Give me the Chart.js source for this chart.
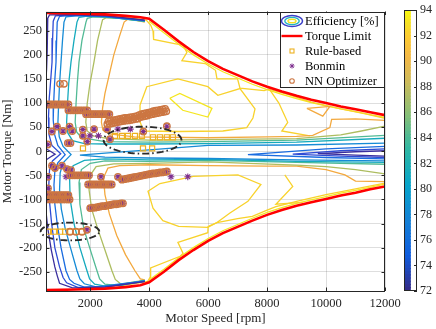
<!DOCTYPE html>
<html><head><meta charset="utf-8">
<script src="https://cdn.jsdelivr.net/npm/chart.js@4.4.1/dist/chart.umd.min.js"></script>
<style>
html,body{margin:0;padding:0;background:#fff;}
#wrap{position:relative;width:436px;height:329px;overflow:hidden;}
#main{position:absolute;left:0;top:0;}
#cbar{position:absolute;left:396px;top:0;}
</style></head><body>
<div id="wrap"><canvas id="main" width="436" height="329"></canvas><canvas id="cbar" width="40" height="329"></canvas></div>
<script>
// ---------- axes ----------
const xRange = [500, 12000];
const yRange = [-290, 290];
const cbRange = [72, 94];
const xTicks = [2000, 4000, 6000, 8000, 10000, 12000];
const yTicks = [-250, -200, -150, -100, -50, 0, 50, 100, 150, 200, 250];
const cbTicks = [72, 74, 76, 78, 80, 82, 84, 86, 88, 90, 92, 94];
const xTitle = 'Motor Speed [rpm]';
const yTitle = 'Motor Torque [Nm]';
const legendLabels = ['Efficiency [%]', 'Torque Limit', 'Rule-based', 'Bonmin', 'NN Optimizer'];

// ---------- torque limit ----------
const limitUp = [[500,287],[1500,286],[2500,284],[3200,281],[3700,278],[4000,275],[4500,252],[5000,228],[5500,206],[6000,187],[6500,171],[7000,158],[7500,145],[8000,134],[8500,124],[9000,115],[9500,107],[10000,100],[10500,93],[11000,87],[11500,81],[12000,75]];
const limitDn = [[500,-288],[1500,-287],[2500,-285],[3200,-282],[3700,-278],[4000,-272],[4500,-250],[5000,-226],[5500,-205],[6000,-186],[6500,-170],[7000,-157],[7500,-144],[8000,-132],[8500,-122],[9000,-113],[9500,-106],[10000,-99],[10500,-92],[11000,-86],[11500,-79],[12000,-73]];

// ---------- efficiency contour paths (rpm, Nm) ----------
const up72 = [[3850,272],[2500,281.5],[1200,283.5],[620,283],[560,276],[545,245],[535,205],[520,170],[500,150]];
const chev72L = [[500,5],[650,0],[810,-6],[650,-12],[500,-18]];
const low72 = [[500,-125],[560,-160],[680,-205],[800,-240],[880,-258],[960,-274],[1400,-283.5],[2500,-282],[3850,-270.5]];
const wedge72R = [[12000,1],[11000,-1],[9720,-5],[11000,-8],[12000,-10]];
const path74 = [[3850,271.5],[2500,280.8],[1300,282.8],[820,281],[745,270],[725,235],[705,185],[650,140],[610,110],[585,70],[600,35],[700,12],[1000,-5],[720,-20],[620,-38],[595,-70],[620,-105],[690,-150],[800,-200],[960,-240],[1080,-262],[1200,-273],[1600,-282.7],[2500,-281.3],[3850,-270]];
const wedge74R = [[12000,5],[10500,1],[8870,-6],[10500,-10],[12000,-13]];
const path76 = [[3850,271],[2500,280.1],[1400,282.1],[960,280],[880,268],[860,230],[840,185],[790,140],[760,100],[745,65],[790,35],[900,12],[1150,-7],[900,-24],[800,-42],[770,-70],[800,-110],[880,-150],[1010,-200],[1178,-248],[1300,-266],[1450,-274],[1800,-282],[2500,-280.6],[3850,-269.5]];
const wedge76R = [[12000,10],[10000,5],[7350,-7],[10000,-13],[12000,-16]];
const path78 = [[3850,270.5],[2500,279.4],[1600,281.4],[1180,279],[1110,268],[1060,230],[1009,185],[960,140],[930,100],[905,60],[950,30],[1080,10],[1350,-7],[1080,-24],[980,-45],[960,-80],[1020,-120],[1150,-160],[1330,-200],[1551,-248],[1650,-265],[1800,-275],[2200,-281.6],[3850,-269]];
const wedge78R = [[12000,17],[9000,13],[6000,12],[4000,3],[2500,-4],[1650,-8],[2500,-12],[4000,-14],[6000,-15],[9000,-18],[12000,-20]];
const up82 = [[3850,270],[2500,278.7],[1900,280.5],[1620,278],[1551,268],[1450,230],[1348,185],[1270,140],[1230,100],[1200,60],[1240,38],[1400,22],[1800,16],[2500,15],[4000,15],[6000,16],[9000,19],[12000,27]];
const low82 = [[12000,-23],[9000,-21],[6000,-17],[4000,-18],[2500,-16],[1800,-19],[1420,-30],[1300,-55],[1320,-100],[1450,-150],[1650,-200],[1890,-248],[1980,-265],[2150,-276],[2600,-280.7],[3850,-268.5]];
const up85 = [[3850,269.5],[2700,277.6],[2100,279],[1900,276],[1856,268],[1720,230],[1619,185],[1560,140],[1520,100],[1490,60],[1540,40],[1700,28],[2500,20],[4000,19],[6000,20],[9000,23],[12000,33]];
const low85 = [[12000,-27],[9000,-23],[6000,-19],[4000,-21],[2500,-20],[2000,-25],[1700,-38],[1620,-65],[1650,-110],[1780,-160],[1980,-200],[2229,-248],[2320,-265],[2500,-276],[3000,-279.5],[3850,-268]];
const up88 = [[3850,269],[3000,276],[2550,277],[2420,273],[2398,268],[2250,230],[2127,185],[1990,140],[1900,100],[1850,60],[1900,42],[2100,32],[2600,26],[4000,23],[6000,24],[9000,26],[10500,34],[11200,42],[12000,52]];
const low88 = [[12000,-47],[11000,-38],[10000,-32],[9000,-29],[6000,-22],[4000,-25],[2800,-26],[2200,-32],[2000,-50],[1960,-80],[2050,-120],[2250,-160],[2500,-205],[2737,-248],[2850,-266],[3050,-276],[3850,-267.5]];
const up90 = [[3850,268],[3300,275],[3150,268],[3000,240],[2800,200],[2650,160],[2500,120],[2420,90],[2380,60],[2430,44],[2650,36],[3500,30],[6000,28],[8000,30],[9000,31],[9550,33],[10130,49],[10190,66],[11000,67],[12000,64]];
const low90 = [[12000,-63],[11000,-62],[10640,-49],[10000,-38],[9000,-31],[8000,-31],[6000,-30],[4000,-28],[3000,-30],[2600,-35],[2450,-55],[2500,-90],[2650,-130],[2900,-175],[3200,-215],[3517,-248],[3700,-265],[3850,-267]];
const tri90 = [[9350,89],[10130,93],[9890,73],[9350,89]];
const up92 = [[3000,280],[3900,272],[4050,262],[4130,250],[4150,232],[4900,223],[5150,220],[5280,205],[5110,188],[5900,182],[6250,168],[6300,150],[7000,150],[7080,131],[7900,126],[8050,129],[8700,118],[9500,102],[10500,88],[11300,78],[12000,68]];
const up92b = [[8100,127],[8400,100],[8550,80],[8700,60],[8500,42],[9450,32]];
const loop92U = [[3690,96],[3920,134],[4975,150],[5990,134],[6330,116],[7080,130],[7590,88],[7520,69],[7310,49],[6500,42],[5000,41],[3800,42],[3700,60],[3690,96]];
const loop93U = [[4700,110],[5040,120],[6130,89],[5990,71],[5140,85],[4700,110]];
const low92 = [[3000,-280],[3950,-270],[4030,-262],[4050,-242],[5050,-218],[5150,-212],[4975,-189],[5990,-169],[6000,-156],[6300,-148],[7000,-140],[7500,-135],[8000,-122],[8300,-115],[9000,-104],[10000,-90],[11000,-78],[12000,-66]];
const low92b = [[8600,-49],[8870,-73],[8300,-110],[9210,-106]];
const loop92L = [[4365,-67],[5500,-52],[7010,-49],[7790,-69],[7350,-104],[6740,-128],[6300,-148],[5990,-158],[5000,-156],[4465,-144],[4130,-118],[3960,-83],[4365,-67]];
const up93 = [[4000,270],[4500,246],[5000,222],[5500,200],[6000,181],[6500,165],[7000,152],[7500,139],[8000,128],[8500,118],[9000,109],[9500,101],[10000,94],[10500,88],[11000,82],[11500,76],[12000,70]];
const low93 = [[4000,-267],[4500,-245],[5000,-221],[5500,-200],[6000,-181],[6500,-165],[7000,-152],[7500,-139],[8000,-127],[8500,-117],[9000,-108],[9500,-101],[10000,-94],[10500,-87],[11000,-81],[11500,-75],[12000,-68]];

const contourSet = [
  [72.5, up72], [72.5, chev72L], [72.5, low72], [72.5, wedge72R],
  [74, path74], [74, wedge74R],
  [76, path76], [76, wedge76R],
  [78, path78], [78, wedge78R],
  [82, up82], [82, low82],
  [85, up85], [85, low85],
  [88, up88], [88, low88],
  [90, up90], [90, low90], [90, tri90],
  [92, up92], [92, up92b], [92, low92], [92, low92b], [92, loop92U], [92, loop92L],
  [93, up93], [93, low93], [93, loop93U]
];

// ---------- operating points (rpm, Nm) ----------
const rowA = [[540,97],[620,97],[700,97],[780,97],[860,97],[940,97],[1020,97],[1100,97],[1180,97],[1260,97]];
const rowB = [[1260,85],[1340,85],[1420,85],[1500,85],[1580,85],[1660,85],[1740,85],[1820,85],[1900,85]];
const rowC = [[1860,77],[1940,77],[2020,77],[2100,77],[2180,77],[2260,77],[2340,77],[2420,77],[2500,77],[2580,77],[2650,77]];
const bandUpper = [[2620,62],[2700,63],[2780,64],[2860,65],[2940,66],[3020,67],[3100,68],[3180,69],[3260,69],[3340,70],[3420,71],[3500,72],[3580,73],[3660,75],[3740,77],[3820,78],[3900,79],[3980,80],[4060,81],[4140,83],[4220,84],[4300,85],[4380,86],[4460,87],[4540,88]];
const bandLower = [[2580,56],[2660,57],[2740,58],[2820,59],[2900,60],[2980,61],[3060,62],[3140,63],[3220,64],[3300,64],[3380,65],[3460,66],[3540,67],[3620,68],[3700,71],[3780,72],[3860,73],[3940,74],[4020,76],[4100,77],[4180,78],[4260,79],[4340,80],[4420,81],[4500,82],[4580,83]];
const ptsShared = [[560,14],[700,41],[873,51],[1076,42],[1300,51],[1390,42],[1240,17],[1330,17],[1750,45],[1750,32],[1900,20],[2130,46],[2570,46],[2670,25],[3800,41],[4600,52]];
const negShared = [[703,-30],[805,-35],[1042,-30],[1212,-37],[1348,-39],[568,-53],[2364,-53],[2941,-53],[568,-77],[1890,-163]];
const rowNeg50 = [[1320,-50],[1400,-50],[1480,-50],[1560,-50],[1640,-50],[1720,-50],[1800,-50],[1880,-50],[1960,-50]];
const rowNeg55 = [[3080,-59],[3160,-58],[3240,-57],[3320,-56],[3400,-55],[3480,-54],[3560,-53],[3640,-52],[3720,-51],[3800,-50],[3880,-49],[3960,-48],[4040,-47],[4120,-46],[4200,-46],[4280,-45],[4360,-44],[4440,-44],[4520,-43],[4600,-42]];
const rowNeg69 = [[1930,-69],[2010,-69],[2090,-69],[2170,-69],[2250,-69],[2330,-69],[2410,-69],[2490,-69],[2570,-69],[2650,-69],[2730,-69]];
const rowNeg91 = [[540,-91],[620,-91],[700,-91],[780,-91],[860,-91],[940,-91],[1020,-91],[1100,-91],[1180,-91],[1260,-91]];
const rowNeg100 = [[520,-100],[600,-100],[680,-100],[760,-100],[840,-100],[920,-100],[1000,-100],[1080,-100],[1160,-100],[1240,-100],[1300,-100]];
const rowNeg113 = [[2000,-118],[2080,-117],[2160,-117],[2240,-116],[2320,-115],[2400,-114],[2480,-114],[2560,-113],[2640,-112],[2720,-111],[2800,-110],[2880,-110],[2960,-109],[3040,-108],[3110,-108]];
const nnOnly = [[975,140],[1110,140],[1314,-167],[1517,-167],[1720,-167]];
const bonminOnly = [[1990,32],[2280,32],[2940,46],[3360,46],[1180,-53],[4740,-53],[5310,-53]];
const ruleOnly = [[2840,32],[3076,32],[3280,32],[3517,32],[3754,32],[4130,29],[4365,29],[4600,29],[4805,29],[3790,6],[4100,6],[1754,6],[568,-167],[771,-167],[975,-167],[1150,-167],[1314,-167],[1517,-167],[1720,-167]];

// dash-dot highlight ellipses: centres and radii (rpm, Nm)
const ellipseCentres = [[3775,23],[1313,-166.5]];
const ellipseRadii = [[1320,28],[993,18.5]];

// ---------- styles ----------
const FONT = "'Liberation Serif','Times New Roman',serif";
const AXIS_COLOR = '#262626';
const levelColor = {'72.5':'#3b2f9e','74':'#2f4bd4','76':'#1a6ce0','78':'#168bd6','82':'#15aabd','85':'#52ba95','88':'#adbd60','90':'#f3a93f','92':'#f8d22c','93':'#f5e620'};
const parulaStops = [[0,'#352a87'],[0.125,'#0f5cdd'],[0.25,'#1481d6'],[0.375,'#06a4ca'],[0.5,'#2eb7a4'],[0.625,'#87bf77'],[0.75,'#d1bb59'],[0.83,'#f3b846'],[0.9,'#fcca32'],[0.95,'#f5df25'],[1,'#f9fb0e']];
const RULE_COLOR = '#EDB120', BONMIN_COLOR = '#7E2F8E', NN_COLOR = 'rgb(204,118,66)';

function hex2rgb(h){return [parseInt(h.slice(1,3),16),parseInt(h.slice(3,5),16),parseInt(h.slice(5,7),16)];}
function parula(t){
  for(let i=0;i<parulaStops.length-1;i++){
    const [t0,c0]=parulaStops[i],[t1,c1]=parulaStops[i+1];
    if(t<=t1){const f=(t-t0)/(t1-t0);const a=hex2rgb(c0),b=hex2rgb(c1);
      return 'rgb('+a.map((v,k)=>Math.round(v+(b[k]-v)*f)).join(',')+')';}
  }
  return parulaStops[parulaStops.length-1][1];
}
const toXY = arr => arr.map(p => ({x:p[0], y:p[1]}));

Chart.defaults.font.family = FONT;
Chart.defaults.color = AXIS_COLOR;

// ---------- datasets ----------
const datasets = [];
contourSet.forEach(([lvl, path]) => {
  datasets.push({data: toXY(path), showLine:true, pointRadius:0, borderColor: levelColor[String(lvl)], borderWidth:1.3, tension:0, order:100});
});
datasets.push({data: toXY(limitUp), showLine:true, pointRadius:0, borderColor:'#ff0000', borderWidth:2.6, order:50});
datasets.push({data: toXY(limitDn), showLine:true, pointRadius:0, borderColor:'#ff0000', borderWidth:2.6, order:50});
datasets.push({data: toXY(ruleOnly), pointStyle:'rect', pointRadius:3.6, borderColor:RULE_COLOR, backgroundColor:'rgba(0,0,0,0)', borderWidth:1.2, order:4});
const bonminPts = [].concat(rowA,rowB,rowC,ptsShared,bonminOnly,negShared,rowNeg50,rowNeg55,rowNeg69,rowNeg91,rowNeg100,rowNeg113);
datasets.push({data: toXY(bonminPts), pointStyle:'star', pointRadius:3.4, borderColor:BONMIN_COLOR, backgroundColor:BONMIN_COLOR, borderWidth:1.1, order:3});
const nnPts = [].concat(nnOnly,rowA,rowB,rowC,bandUpper,bandLower,ptsShared,negShared,rowNeg50,rowNeg55,rowNeg69,rowNeg91,rowNeg100,rowNeg113);
datasets.push({data: toXY(nnPts), pointStyle:'circle', pointRadius:3.2, borderColor:NN_COLOR, backgroundColor:'rgba(0,0,0,0)', borderWidth:1.4, order:2});
ellipseCentres.forEach((c,i) => {
  const r = ellipseRadii[i], pts = [];
  for(let k=0;k<=90;k++){const a=k/90*2*Math.PI; pts.push({x:c[0]+r[0]*Math.cos(a), y:c[1]+r[1]*Math.sin(a)});}
  datasets.push({data:pts, showLine:true, pointRadius:0, borderColor:'#2a2a2a', borderWidth:1.9, borderDash:[7,3,1.5,3], clip:false, order:1});
});

// ---------- frame, inward ticks and legend ----------
const framePlugin = {
  id:'frame',
  afterDraw(chart){
    const {ctx, chartArea:a, scales:{x,y}} = chart;
    ctx.save();
    ctx.strokeStyle = AXIS_COLOR; ctx.lineWidth = 1;
    ctx.beginPath();
    xTicks.forEach(v => {const p=Math.round(x.getPixelForValue(v))+0.5; ctx.moveTo(p,a.bottom); ctx.lineTo(p,a.bottom-3.5); ctx.moveTo(p,a.top); ctx.lineTo(p,a.top+3.5);});
    yTicks.forEach(v => {const p=Math.round(y.getPixelForValue(v))+0.5; ctx.moveTo(a.left,p); ctx.lineTo(a.left+3.5,p); ctx.moveTo(a.right,p); ctx.lineTo(a.right-3.5,p);});
    ctx.stroke();
    ctx.strokeRect(Math.round(a.left)+0.5, Math.round(a.top)+0.5, Math.round(a.right-a.left)-1, Math.round(a.bottom-a.top)-1);
    // legend box
    const w=105, h=76, L=Math.round(a.right)-w, T=Math.round(a.top);
    ctx.fillStyle='#fff'; ctx.fillRect(L,T,w,h);
    ctx.strokeStyle=AXIS_COLOR; ctx.lineWidth=1; ctx.strokeRect(L+0.5,T+0.5,w-1,h-1);
    const ix=L+12, tx=L+25;
    const rowY = i => T+9+i*15;
    // efficiency icon
    [[10.5,5.5,'#3b3fc8'],[7.2,3.6,'#22b3c3'],[4,1.8,'#f1df22']].forEach(([rx,ry,c])=>{ctx.beginPath(); ctx.ellipse(ix,rowY(0),rx,ry,0,0,2*Math.PI); ctx.strokeStyle=c; ctx.lineWidth=1.4; ctx.stroke();});
    // torque limit
    ctx.beginPath(); ctx.moveTo(ix-10.5,rowY(1)); ctx.lineTo(ix+10.5,rowY(1)); ctx.strokeStyle='#ff0000'; ctx.lineWidth=2.4; ctx.stroke();
    // rule-based square
    ctx.strokeStyle=RULE_COLOR; ctx.lineWidth=1.1; ctx.strokeRect(ix-2,rowY(2)-2,4,4);
    // bonmin star
    ctx.strokeStyle=BONMIN_COLOR; ctx.lineWidth=1; ctx.beginPath();
    for(let k=0;k<4;k++){const an=k*Math.PI/4; ctx.moveTo(ix-2.5*Math.cos(an),rowY(3)-2.5*Math.sin(an)); ctx.lineTo(ix+2.5*Math.cos(an),rowY(3)+2.5*Math.sin(an));}
    ctx.stroke();
    // nn circle
    ctx.strokeStyle=NN_COLOR; ctx.lineWidth=1.1; ctx.beginPath(); ctx.arc(ix,rowY(4),2.3,0,2*Math.PI); ctx.stroke();
    ctx.fillStyle='#000'; ctx.font='12.5px '+FONT; ctx.textAlign='left'; ctx.textBaseline='middle';
    legendLabels.forEach((t,i)=>ctx.fillText(t,tx,rowY(i)+0.5));
    ctx.restore();
  }
};

new Chart(document.getElementById('main'), {
  type:'scatter',
  data:{datasets},
  options:{
    responsive:false, animation:false, devicePixelRatio:1, events:[],
    layout:{padding:{top:7,right:51,left:0,bottom:0}},
    plugins:{legend:{display:false}, tooltip:{enabled:false}},
    scales:{
      x:{type:'linear', min:xRange[0], max:xRange[1],
        afterBuildTicks:s=>{s.ticks = xTicks.map(v=>({value:v}));},
        afterFit:s=>{s.height=38;},
        ticks:{font:{size:12.5}, color:AXIS_COLOR, padding:5, maxRotation:0, autoSkip:false, callback:v=>String(v)},
        grid:{color:'rgba(0,0,0,0.13)', lineWidth:1, drawTicks:false},
        border:{display:false},
        title:{display:true, text:xTitle, font:{size:13}, color:AXIS_COLOR, padding:{top:0,bottom:3}}},
      y:{type:'linear', min:yRange[0], max:yRange[1],
        afterBuildTicks:s=>{s.ticks = yTicks.map(v=>({value:v}));},
        afterFit:s=>{s.width=46;},
        ticks:{font:{size:12.5}, color:AXIS_COLOR, padding:4, autoSkip:false, callback:v=>String(v)},
        grid:{color:'rgba(0,0,0,0.13)', lineWidth:1, drawTicks:false},
        border:{display:false},
        title:{display:true, text:yTitle, font:{size:13}, color:AXIS_COLOR, padding:{top:0,bottom:0}}}
    }
  },
  plugins:[framePlugin]
});

// ---------- colorbar ----------
const cbSegs = 88;
const cbDatasets = [];
for(let i=0;i<cbSegs;i++){
  const lo = cbRange[0]+(cbRange[1]-cbRange[0])*i/cbSegs;
  const hi = cbRange[0]+(cbRange[1]-cbRange[0])*(i+1)/cbSegs;
  cbDatasets.push({data:[[lo, Math.min(hi+0.03, cbRange[1])]], backgroundColor:parula((i+0.5)/cbSegs), borderWidth:0, grouped:false, barPercentage:1, categoryPercentage:1});
}
const cbFrame = {
  id:'cbframe',
  afterDraw(chart){
    const {ctx, chartArea:a, scales:{y}} = chart;
    ctx.save(); ctx.strokeStyle=AXIS_COLOR; ctx.lineWidth=1;
    ctx.strokeRect(Math.round(a.left)+0.5, Math.round(a.top)+0.5, Math.round(a.right-a.left)-1, Math.round(a.bottom-a.top)-1);
    ctx.beginPath();
    cbTicks.forEach(v=>{const p=Math.round(y.getPixelForValue(v))+0.5; ctx.moveTo(a.right,p); ctx.lineTo(a.right-3,p);});
    ctx.stroke(); ctx.restore();
  }
};
new Chart(document.getElementById('cbar'), {
  type:'bar',
  data:{labels:[''], datasets:cbDatasets},
  options:{
    responsive:false, animation:false, devicePixelRatio:1, events:[],
    layout:{padding:{left:8, top:7, bottom:38, right:0}},
    plugins:{legend:{display:false}, tooltip:{enabled:false}},
    scales:{
      x:{display:false, offset:false},
      y:{position:'right', min:cbRange[0], max:cbRange[1],
        afterBuildTicks:s=>{s.ticks = cbTicks.map(v=>({value:v}));},
        afterFit:s=>{s.width=19;},
        ticks:{font:{size:12}, color:AXIS_COLOR, padding:3, autoSkip:false},
        grid:{display:false, drawTicks:false}, border:{display:false}}
    }
  },
  plugins:[cbFrame]
});
</script></body></html>
